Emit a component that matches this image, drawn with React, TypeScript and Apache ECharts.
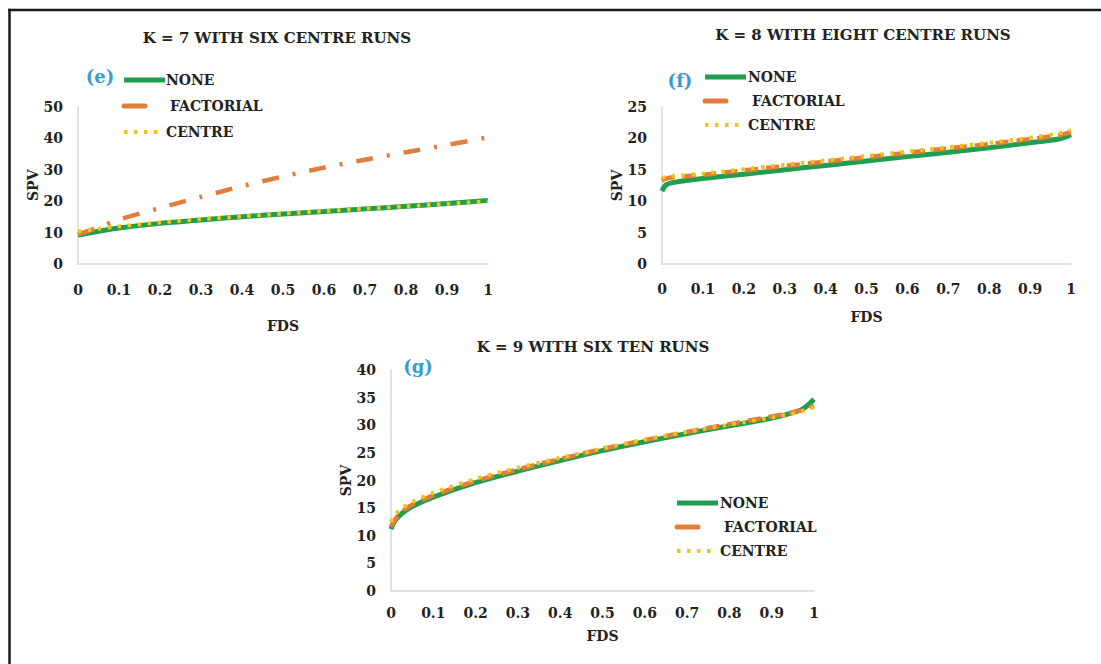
import React, { useEffect, useRef } from "react";
import * as echarts from "echarts";

// ---------- data ----------
const FDS_E = [0, 0.05, 0.1, 0.2, 0.3, 0.4, 0.5, 0.6, 0.7, 0.8, 0.9, 1];
const E_NONE = [9.2, 10.4, 11.4, 12.9, 14.0, 15.0, 15.9, 16.7, 17.5, 18.3, 19.2, 20.2];
const E_FACTORIAL = [9.4, 11.6, 14.1, 17.8, 21.3, 24.7, 27.8, 30.6, 33.1, 35.5, 37.8, 40.2];
const E_CENTRE = [10.3, 11.2, 11.9, 13.2, 14.2, 15.1, 16.0, 16.8, 17.6, 18.3, 19.1, 19.9];

const FDS_F = [0, 0.01, 0.03, 0.1, 0.2, 0.3, 0.4, 0.5, 0.6, 0.7, 0.8, 0.9, 0.97, 1];
const F_NONE = [11.6, 12.6, 13.0, 13.6, 14.3, 15.0, 15.7, 16.4, 17.1, 17.8, 18.5, 19.3, 19.9, 20.6];
const F_FACTORIAL = [13.3, 13.6, 13.8, 14.2, 14.9, 15.6, 16.3, 17.0, 17.7, 18.4, 19.1, 19.9, 20.5, 21.0];
const F_CENTRE = [13.6, 13.9, 14.0, 14.4, 15.1, 15.8, 16.5, 17.2, 17.9, 18.6, 19.3, 20.1, 20.8, 21.3];

const FDS_G = [0, 0.01, 0.03, 0.05, 0.1, 0.2, 0.3, 0.4, 0.5, 0.6, 0.7, 0.8, 0.9, 0.97, 1];
const G_NONE = [11.2, 12.8, 14.3, 15.3, 17.0, 19.6, 21.7, 23.6, 25.4, 27.0, 28.5, 29.9, 31.3, 32.8, 34.7];
const G_FACTORIAL = [11.6, 13.0, 14.6, 15.6, 17.3, 19.9, 22.0, 23.9, 25.7, 27.3, 28.8, 30.2, 31.6, 32.7, 33.6];
const G_CENTRE = [12.5, 13.8, 15.2, 16.1, 17.8, 20.3, 22.3, 24.1, 25.8, 27.4, 28.8, 30.1, 31.4, 32.5, 33.3];

const SERIES_NAMES = ["NONE", "FACTORIAL", "CENTRE"];
const X_TICKS = [0, 0.1, 0.2, 0.3, 0.4, 0.5, 0.6, 0.7, 0.8, 0.9, 1];
const TITLES = ["K = 7 WITH SIX CENTRE RUNS", "K = 8 WITH EIGHT CENTRE RUNS", "K = 9 WITH SIX TEN RUNS"];
const TAGS = ["(e)", "(f)", "(g)"];
const Y_MAX = [50, 25, 40];
const Y_STEP = [10, 5, 5];

// ---------- styles ----------
const GREEN = "#1f9e4e";
const ORANGE = "#e27d3c";
const YELLOW = "#f0c419";
const TAG_COLOR = "#3a9bd2";
const TEXT = "#222222";
const AXIS = "#d9d9d9";
const FONT = "'DejaVu Serif', serif";

const zip = (xs: number[], ys: number[]) => xs.map((x, i) => [x, ys[i]]);

export default function App() {
  const ref = useRef<HTMLDivElement>(null);

  useEffect(() => {
    if (!ref.current) return;
    document.body.style.margin = "0";
    document.documentElement.style.overflow = "hidden";
    const chart = echarts.init(ref.current, undefined, { renderer: "svg" });

    const grids = [
      { left: 78, top: 106.5, width: 410, height: 157.5 },
      { left: 662, top: 107, width: 409, height: 157 },
      { left: 391, top: 370, width: 423, height: 221 },
    ];
    const xLabelMargin = [19, 18, 15];
    const xNameGap = [55, 46, 38];
    const yNameGap = [37, 38, 38];

    const xAxes = grids.map((_, i) => ({
      type: "value",
      gridIndex: i,
      min: 0,
      max: 1,
      interval: 0.1,
      name: "FDS",
      nameLocation: "middle",
      nameGap: xNameGap[i],
      nameTextStyle: { fontFamily: FONT, fontWeight: "bold", fontSize: 14, color: TEXT },
      axisLine: { show: true, lineStyle: { color: AXIS, width: 1.5 } },
      axisTick: { show: false },
      splitLine: { show: false },
      axisLabel: {
        margin: xLabelMargin[i],
        fontFamily: FONT,
        fontWeight: "bold",
        fontSize: 14,
        color: TEXT,
        formatter: (v: number) => String(X_TICKS.reduce((a, b) => (Math.abs(b - v) < Math.abs(a - v) ? b : a))),
      },
    }));

    const yAxes = grids.map((_, i) => ({
      type: "value",
      gridIndex: i,
      min: 0,
      max: Y_MAX[i],
      interval: Y_STEP[i],
      name: "SPV",
      nameLocation: "middle",
      nameGap: yNameGap[i],
      nameTextStyle: { fontFamily: FONT, fontWeight: "bold", fontSize: 14, color: TEXT },
      axisLine: { show: true, lineStyle: { color: AXIS, width: 1.5 } },
      axisTick: { show: false },
      splitLine: { show: false },
      axisLabel: { margin: 15, fontFamily: FONT, fontWeight: "bold", fontSize: 14, color: TEXT },
    }));

    const datasets = [
      { x: FDS_E, ys: [E_NONE, E_FACTORIAL, E_CENTRE], factDash: [17, 14, 3, 14] },
      { x: FDS_F, ys: [F_NONE, F_FACTORIAL, F_CENTRE], factDash: [13, 8] },
      { x: FDS_G, ys: [G_NONE, G_FACTORIAL, G_CENTRE], factDash: [13, 8] },
    ];

    const series: any[] = [];
    datasets.forEach((d, i) => {
      series.push({
        name: SERIES_NAMES[0],
        type: "line",
        xAxisIndex: i,
        yAxisIndex: i,
        data: zip(d.x, d.ys[0]),
        showSymbol: false,
        symbol: "none",
        smooth: 0.3,
        lineStyle: { color: GREEN, width: 5 },
      });
      series.push({
        name: SERIES_NAMES[1],
        type: "line",
        xAxisIndex: i,
        yAxisIndex: i,
        data: zip(d.x, d.ys[1]),
        showSymbol: false,
        symbol: "none",
        smooth: 0.3,
        lineStyle: { color: ORANGE, width: 4.5, type: d.factDash },
      });
      series.push({
        name: SERIES_NAMES[2],
        type: "line",
        xAxisIndex: i,
        yAxisIndex: i,
        data: zip(d.x, d.ys[2]),
        showSymbol: false,
        symbol: "none",
        smooth: 0.3,
        lineStyle: { color: YELLOW, width: 4, type: [3.5, 6.5] },
      });
    });

    const titlePos = [
      [277, 38],
      [863, 35],
      [593, 347],
    ];
    const tagPos = [
      [100, 76],
      [680, 80],
      [418, 366],
    ];
    const legendPos = [
      { x: 124, y: 80, gap: 26, tx: 166 },
      { x: 705, y: 77, gap: 24, tx: 748 },
      { x: 677, y: 503, gap: 24, tx: 720 },
    ];

    const graphic: any[] = [
      {
        type: "line",
        shape: { x1: 9.5, y1: 8.75, x2: 9.5, y2: 664 },
        style: { stroke: "#1a1a1a", lineWidth: 2.5 },
        silent: true,
      },
      {
        type: "line",
        shape: { x1: 8.25, y1: 10, x2: 1101, y2: 10 },
        style: { stroke: "#1a1a1a", lineWidth: 2.5 },
        silent: true,
      },
    ];
    TITLES.forEach((t, i) => {
      graphic.push({
        type: "text",
        x: titlePos[i][0],
        y: titlePos[i][1],
        style: {
          text: t,
          align: "center",
          verticalAlign: "middle",
          textAlign: "center",
          textVerticalAlign: "middle",
          font: `bold 15px ${FONT}`,
          fill: TEXT,
        },
      });
      graphic.push({
        type: "text",
        x: tagPos[i][0],
        y: tagPos[i][1],
        style: {
          text: TAGS[i],
          align: "center",
          verticalAlign: "middle",
          textAlign: "center",
          textVerticalAlign: "middle",
          font: `bold 18px ${FONT}`,
          fill: TAG_COLOR,
        },
      });
      const L = legendPos[i];
      const rows = [
        { color: GREEN, width: 5, dash: null as any, len: 41 },
        { color: ORANGE, width: 5, dash: null as any, len: 21 },
        { color: YELLOW, width: 4, dash: [3.5, 6.5], len: 39 },
      ];
      rows.forEach((r, k) => {
        const y = L.y + k * L.gap;
        graphic.push({
          type: "line",
          shape: { x1: L.x, y1: y, x2: L.x + r.len, y2: y },
          style: { stroke: r.color, lineWidth: r.width, lineDash: r.dash, lineCap: k === 1 ? "round" : "butt" },
        });
        graphic.push({
          type: "text",
          x: L.tx + (k === 1 ? 4 : 0),
          y,
          style: {
            text: SERIES_NAMES[k],
            align: "left",
            verticalAlign: "middle",
            textAlign: "left",
            textVerticalAlign: "middle",
            font: `bold 14px ${FONT}`,
            fill: TEXT,
          },
        });
      });
    });

    chart.setOption({
      animation: false,
      backgroundColor: "#ffffff",
      grid: grids,
      xAxis: xAxes,
      yAxis: yAxes,
      series,
      graphic,
    });

    return () => chart.dispose();
  }, []);

  return (
    <div
      ref={ref}
      style={{ position: "absolute", left: 0, top: 0, width: 1101, height: 664, background: "#fff" }}
    />
  );
}
